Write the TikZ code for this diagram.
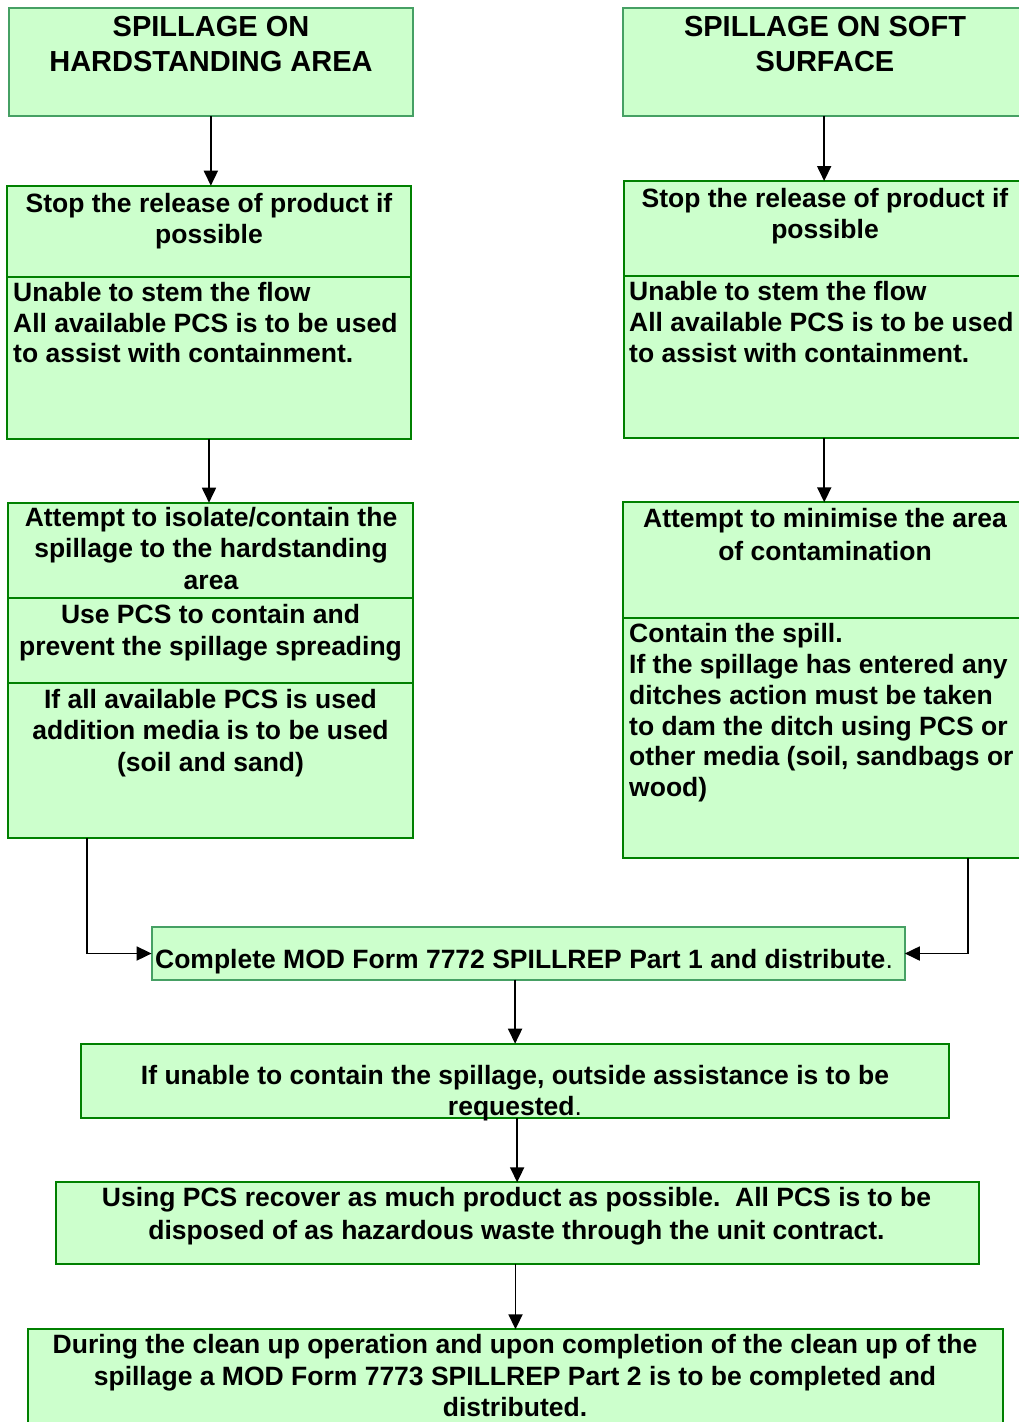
\documentclass[tikz,border=0pt]{standalone}
\usepackage{fontspec}
\setmainfont{Liberation Sans}
\usetikzlibrary{arrows.meta}
\definecolor{boxfill}{HTML}{CCFFCC}
\definecolor{edgelite}{RGB}{70,160,100}
\definecolor{edgedark}{RGB}{0,128,0}
\newcommand\bodyat[1]{\fontsize{26.5}{#1}\selectfont\bfseries}
\newcommand\headfont{\fontsize{29}{35}\selectfont\bfseries}

\begin{document}
\begin{tikzpicture}[x=1pt,y=-1pt,
  panel/.style={draw=edgedark, line width=2pt, fill=boxfill, inner sep=0pt, outer sep=0pt},
  litepanel/.style={panel, draw=edgelite},
  % multi-line texts are placed by the baseline of their last line
  txt/.style={inner sep=0pt, anchor=base, align=center, font={\bodyat{31}}},
  ltxt/.style={txt, anchor=base west, align=left},
  conn/.style={line width=1.8pt, -{Triangle[width=14pt,length=15pt]}}]

\useasboundingbox (0,0) rectangle (1018,1422);

% ---- left column: hardstanding area
\node[litepanel, minimum width=403.7pt, minimum height=107.7pt] (tA)  at (210.85,62.15) {};
\node[panel, minimum width=403.4pt, minimum height=91pt]    (sA1) at (209,231.2) {};
\node[panel, minimum width=403.4pt, minimum height=162pt]   (sA2) at (209,357.7) {};
\node[panel, minimum width=404.4pt, minimum height=95.6pt]  (aA1) at (210.5,550.5) {};
\node[panel, minimum width=404.4pt, minimum height=85pt]    (aA2) at (210.5,640.8) {};
\node[panel, minimum width=404.4pt, minimum height=155pt]   (aA3) at (210.5,760.8) {};

% ---- right column: soft surface
\node[litepanel, minimum width=401.7pt, minimum height=108.3pt] (tB)  at (824.15,62.15) {};
\node[panel, minimum width=401.5pt, minimum height=95pt]    (sB1) at (824.25,228.5) {};
\node[panel, minimum width=401.5pt, minimum height=162.3pt] (sB2) at (824.25,357.15) {};
\node[panel, minimum width=401.7pt, minimum height=115.4pt] (aB1) at (824.15,560) {};
\node[panel, minimum width=401.7pt, minimum height=240pt]   (aB2) at (824.15,737.7) {};

% ---- common steps
\node[litepanel, minimum width=753.2pt, minimum height=52.4pt] (cp) at (528.2,953.5) {};
\node[panel, minimum width=867.4pt, minimum height=74.3pt]  (iu) at (515.1,1080.85) {};
\node[panel, minimum width=922.7pt, minimum height=81.4pt]  (rc) at (517.15,1223) {};
\node[panel, minimum width=975pt,   minimum height=110.7pt] (du) at (515.5,1384.65) {};

% ---- texts
\node[txt, font=\headfont] (tAt) at (211,71) {SPILLAGE ON\\HARDSTANDING AREA};
\node[txt] (sA1t) at (209,243) {Stop the release of product if\\possible};
\node[ltxt, font={\bodyat{30.5}}] (sA2t) at (13,362.7) {Unable to stem the flow\\All available PCS is to be used\\to assist with containment.};
\node[txt, font={\bodyat{31.2}}] (aA1t) at (211,589.1) {Attempt to isolate/contain the\\spillage to the hardstanding\\area};
\node[txt, font={\bodyat{32.4}}] (aA2t) at (210.5,655.7) {Use PCS to contain and\\prevent the spillage spreading};
\node[txt, font={\bodyat{31.5}}] (aA3t) at (210.5,771) {If all available PCS is used\\addition media is to be used\\(soil and sand)};

\node[txt, font=\headfont] (tBt) at (825,71) {SPILLAGE ON SOFT\\SURFACE};
\node[txt] (sB1t) at (825,238) {Stop the release of product if\\possible};
\node[ltxt, font={\bodyat{31}}] (sB2t) at (629,362.5) {Unable to stem the flow\\All available PCS is to be used\\to assist with containment.};
\node[txt, font={\bodyat{32.7}}] (aB1t) at (825,560) {Attempt to minimise the area\\of contamination};
\node[ltxt, font={\bodyat{30.8}}] (aB2t) at (629,796.7) {Contain the spill.\\If the spillage has entered any\\ditches action must be taken\\to dam the ditch using PCS or\\other media (soil, sandbags or\\wood)};

\node[txt] (cpt) at (524,968.3) {Complete MOD Form 7772 SPILLREP Part 1 and distribute{\mdseries .}};
\node[txt, font={\bodyat{30.5}}] (iut) at (515,1115.2) {If unable to contain the spillage, outside assistance is to be\\requested{\mdseries .}};
\node[txt, font={\bodyat{32.5}}] (rct) at (516.5,1239.2) {Using PCS recover as much product as possible.\ \ All PCS is to be\\disposed of as hazardous waste through the unit contract.};
\node[txt, font={\bodyat{31.7}}] (dut) at (515,1416.7) {During the clean up operation and upon completion of the clean up of the\\spillage a MOD Form 7773 SPILLREP Part 2 is to be completed and\\distributed.};

% ---- connectors
\draw[conn] (tA.south) -- (tA.south |- sA1.north);
\draw[conn] (sA2.south) -- (sA2.south |- aA1.north);
\draw[conn] (tB.south) -- (tB.south |- sB1.north);
\draw[conn] (sB2.south) -- (sB2.south |- aB1.north);
\draw[conn] ([xshift=79pt]aA3.south west) |- (cp.west);
\draw[conn] ([xshift=345pt]aB2.south west) |- (cp.east);
\draw[conn] (iu.north |- cp.south) -- (iu.north);
\draw[conn] (rc.north |- iu.south) -- (rc.north);
\draw[conn] (du.north |- rc.south) -- (du.north);
\end{tikzpicture}
\end{document}
